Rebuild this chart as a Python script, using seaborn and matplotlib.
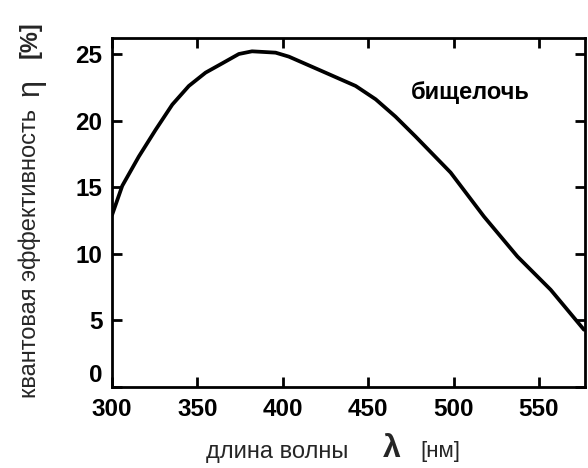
import matplotlib
matplotlib.use("Agg")
import matplotlib.pyplot as plt
import seaborn as sns
import pandas as pd

wavelength = [300, 306, 315.7, 325.5, 335.3, 345, 354.8, 364.6, 374.3, 382, 389, 395.8,
              403.6, 423.2, 442.7, 454.4, 466, 477.8, 498.3, 517.8, 537.4, 556.9, 576.4]
efficiency = [12.9, 15.1, 17.3, 19.3, 21.2, 22.6, 23.6, 24.3, 25.0, 25.2, 25.15, 25.1,
              24.8, 23.7, 22.6, 21.6, 20.3, 18.8, 16.1, 12.8, 9.8, 7.3, 4.3]
x_ticks = [300, 350, 400, 450, 500, 550]
y_ticks = [0, 5, 10, 15, 20, 25]
label_text = "бищелочь"

sns.set_theme(style="ticks")
plt.rcParams['font.family'] = ['Liberation Sans', 'DejaVu Sans']

df = pd.DataFrame({"wl": wavelength, "eta": efficiency})

fig = plt.figure(figsize=(5.88, 4.68), dpi=100)
ax = fig.add_axes([112/588, 1-387/468, (585-112)/588, (387-38)/468])
sns.lineplot(data=df, x="wl", y="eta", ax=ax, color="black", linewidth=2.7, sort=False)

ax.set_xlim(300, 577)
ax.set_ylim(0, 26.2)
ax.set_xticks(x_ticks)
ax.set_yticks(y_ticks)
ax.set_xlabel("")
ax.set_ylabel("")
for s in ax.spines.values():
    s.set_linewidth(2.0)
    s.set_color("black")
ax.tick_params(direction="in", length=7, width=2.0, top=True, right=True,
               labeltop=False, labelright=False, labelsize=17.5, colors="black")
ax.tick_params(axis="x", pad=8)
ax.tick_params(axis="y", pad=7)
for lab in ax.get_xticklabels() + ax.get_yticklabels():
    lab.set_fontweight("bold")
ax.get_yticklabels()[0].set_va("bottom")

ax.text(475, 22.1, label_text, fontsize=17, fontweight="bold", ha="left", va="center", color="black")

fig.text(206/588, 1-452/468, "длина волны", fontsize=17, ha="left", va="center")
fig.text(392/588, 1-449/468, "λ", fontsize=23, fontweight="bold", ha="center", va="center")
fig.text(420/588, 1-452/468, "[нм]", fontsize=16, ha="left", va="center")

fig.text(30/588, 1-254/468, "квантовая эффективность", fontsize=17, rotation=90, ha="center", va="center")
fig.text(30/588, 1-88/468, "η", fontsize=22, rotation=90, ha="center", va="center")
fig.text(30/588, 1-40/468, "[%]", fontsize=17, fontweight="bold", rotation=90, ha="center", va="center")

fig.savefig("out.png", dpi=100)
